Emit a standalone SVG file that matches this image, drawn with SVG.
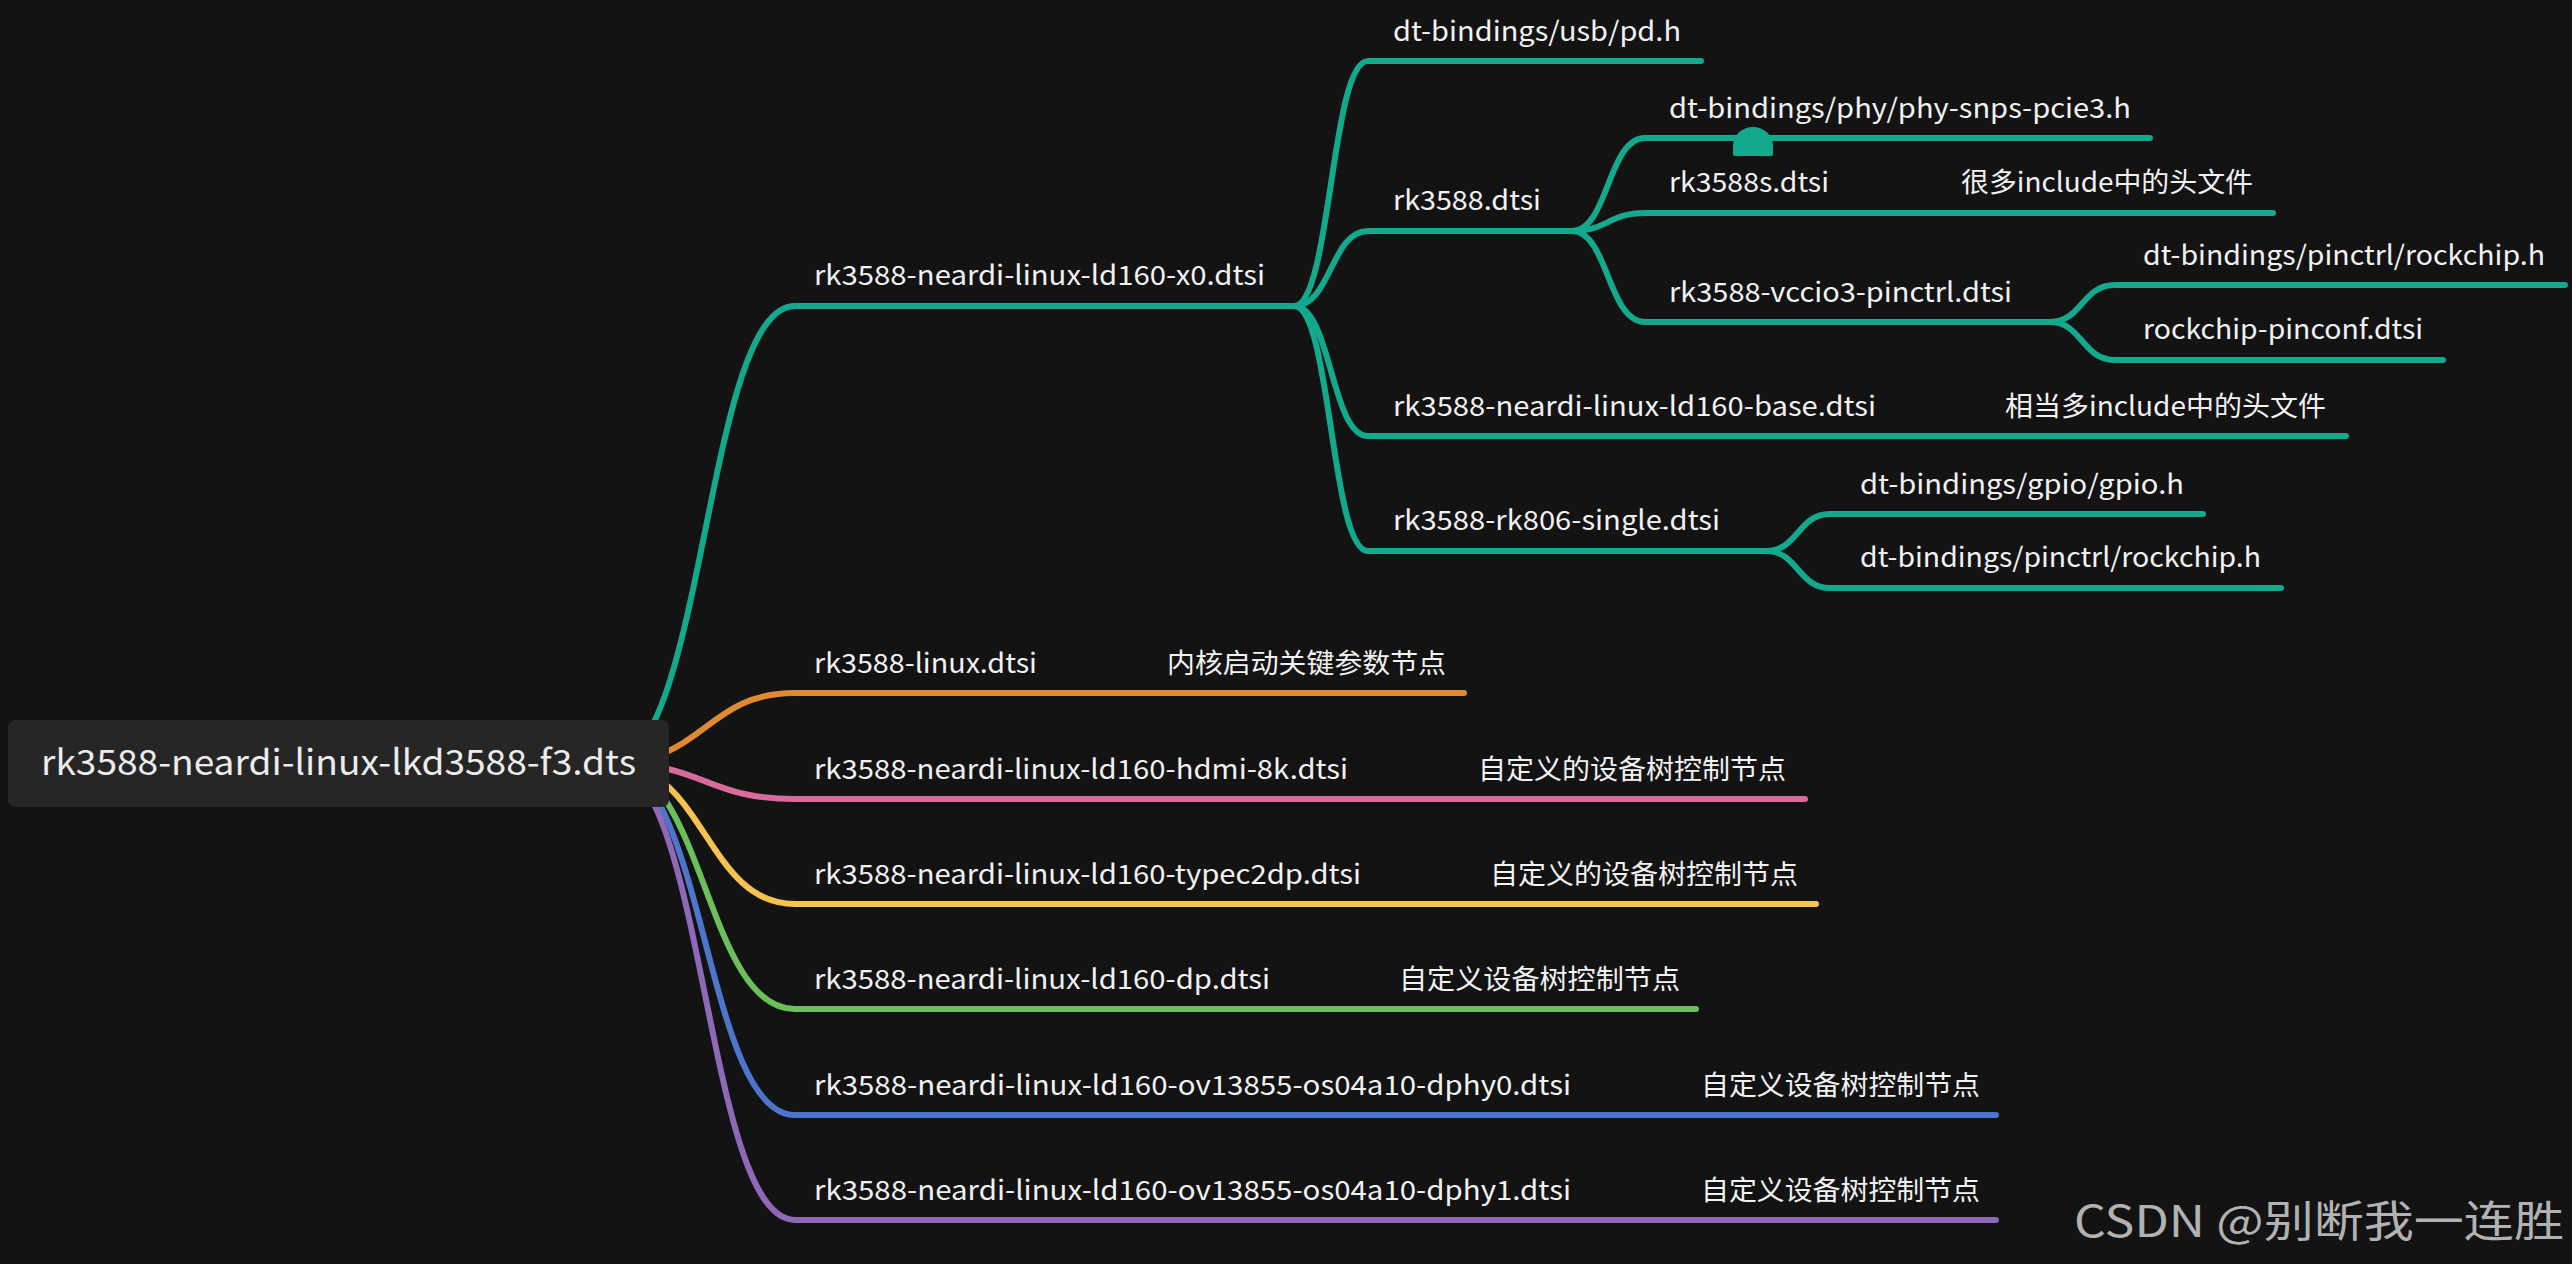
<svg xmlns="http://www.w3.org/2000/svg" width="2572" height="1264" viewBox="0 0 2572 1264">
<style>
.bg{fill:#131313}
.e{fill:none;stroke-width:6;stroke-linecap:round;stroke-linejoin:round}
.teal{stroke:#12a98c}
.orange{stroke:#df8a30}
.pink{stroke:#d86b9b}
.yellow{stroke:#f8c24e}
.green{stroke:#6cc05b}
.blue{stroke:#4e75cc}
.purple{stroke:#9068b8}
text{font-family:"Noto Sans CJK SC","Noto Sans",sans-serif;fill:#f2f2f2}
.t{font-size:27px}
.root{font-size:35px;fill:#ececec}
.wm{font-size:43px;fill:#c4c4c4;opacity:0.9}
</style>
<rect class="bg" x="0" y="0" width="2572" height="1264"/>
<g id="connectors">
<path class="e teal" d="M610 763 C705 763 705 306 795 306 L1294 306"/>
<path class="e orange" d="M610 763 C705 763 705 693 795 693 L1464 693"/>
<path class="e pink" d="M610 763 C705 763 705 799 795 799 L1805 799"/>
<path class="e yellow" d="M610 763 C705 763 705 904 795 904 L1816 904"/>
<path class="e green" d="M610 763 C705 763 705 1009 795 1009 L1696 1009"/>
<path class="e blue" d="M610 763 C705 763 705 1115 795 1115 L1996 1115"/>
<path class="e purple" d="M610 763 C705 763 705 1220 795 1220 L1996 1220"/>
<path class="e teal" d="M1294 306 C1331 306 1331 61 1368 61 L1701 61"/>
<path class="e teal" d="M1294 306 C1331 306 1331 231 1368 231 L1572 231"/>
<path class="e teal" d="M1294 306 C1331 306 1331 436 1368 436 L2346 436"/>
<path class="e teal" d="M1294 306 C1331 306 1331 551 1368 551 L1766 551"/>
<path class="e teal" d="M1572 231 C1608 231 1608 138 1645 138 L2150 138"/>
<path class="e teal" d="M1572 231 C1608 231 1608 213 1645 213 L2273 213"/>
<path class="e teal" d="M1572 231 C1608 231 1608 322 1645 322 L2050 322"/>
<path class="e teal" d="M2050 322 C2082 322 2082 285 2115 285 L2565 285"/>
<path class="e teal" d="M2050 322 C2082 322 2082 360 2115 360 L2443 360"/>
<path class="e teal" d="M1766 551 C1798 551 1798 514 1830 514 L2203 514"/>
<path class="e teal" d="M1766 551 C1798 551 1798 588 1830 588 L2281 588"/>
<path d="M1733 154 L1733 146 A20 19 0 0 1 1773 146 L1773 154 Q1773 156 1771 156 L1735 156 Q1733 156 1733 154 Z" fill="#12a98c"/>
</g>
<g id="root">
<rect x="8" y="720" width="661" height="87" rx="7" fill="#262626"/>
<text class="root" x="41" y="775" textLength="595" lengthAdjust="spacingAndGlyphs">rk3588-neardi-linux-lkd3588-f3.dts</text>
</g>
<g id="n-x0"><text class="t" x="814" y="285" textLength="451" lengthAdjust="spacingAndGlyphs">rk3588-neardi-linux-ld160-x0.dtsi</text></g>
<g id="n-pd"><text class="t" x="1393" y="41" textLength="288" lengthAdjust="spacingAndGlyphs">dt-bindings/usb/pd.h</text></g>
<g id="n-rk3588"><text class="t" x="1393" y="210" textLength="148" lengthAdjust="spacingAndGlyphs">rk3588.dtsi</text></g>
<g id="n-phy"><text class="t" x="1669" y="118" textLength="462" lengthAdjust="spacingAndGlyphs">dt-bindings/phy/phy-snps-pcie3.h</text></g>
<g id="n-rk3588s"><text class="t" x="1669" y="192" textLength="160" lengthAdjust="spacingAndGlyphs">rk3588s.dtsi</text><text class="t" x="1961" y="192" textLength="292" lengthAdjust="spacingAndGlyphs">很多include中的头文件</text></g>
<g id="n-vccio3"><text class="t" x="1669" y="302" textLength="343" lengthAdjust="spacingAndGlyphs">rk3588-vccio3-pinctrl.dtsi</text></g>
<g id="n-pinctrl1"><text class="t" x="2143" y="265" textLength="402" lengthAdjust="spacingAndGlyphs">dt-bindings/pinctrl/rockchip.h</text></g>
<g id="n-pinconf"><text class="t" x="2143" y="339" textLength="280" lengthAdjust="spacingAndGlyphs">rockchip-pinconf.dtsi</text></g>
<g id="n-base"><text class="t" x="1393" y="416" textLength="483" lengthAdjust="spacingAndGlyphs">rk3588-neardi-linux-ld160-base.dtsi</text><text class="t" x="2005" y="416" textLength="321" lengthAdjust="spacingAndGlyphs">相当多include中的头文件</text></g>
<g id="n-rk806"><text class="t" x="1393" y="530" textLength="327" lengthAdjust="spacingAndGlyphs">rk3588-rk806-single.dtsi</text></g>
<g id="n-gpio"><text class="t" x="1860" y="494" textLength="324" lengthAdjust="spacingAndGlyphs">dt-bindings/gpio/gpio.h</text></g>
<g id="n-pinctrl2"><text class="t" x="1860" y="567" textLength="401" lengthAdjust="spacingAndGlyphs">dt-bindings/pinctrl/rockchip.h</text></g>
<g id="n-linux"><text class="t" x="814" y="673" textLength="223" lengthAdjust="spacingAndGlyphs">rk3588-linux.dtsi</text><text class="t" x="1167" y="673" textLength="279" lengthAdjust="spacingAndGlyphs">内核启动关键参数节点</text></g>
<g id="n-hdmi"><text class="t" x="814" y="779" textLength="534" lengthAdjust="spacingAndGlyphs">rk3588-neardi-linux-ld160-hdmi-8k.dtsi</text><text class="t" x="1478" y="779" textLength="308" lengthAdjust="spacingAndGlyphs">自定义的设备树控制节点</text></g>
<g id="n-typec"><text class="t" x="814" y="884" textLength="547" lengthAdjust="spacingAndGlyphs">rk3588-neardi-linux-ld160-typec2dp.dtsi</text><text class="t" x="1490" y="884" textLength="308" lengthAdjust="spacingAndGlyphs">自定义的设备树控制节点</text></g>
<g id="n-dp"><text class="t" x="814" y="989" textLength="456" lengthAdjust="spacingAndGlyphs">rk3588-neardi-linux-ld160-dp.dtsi</text><text class="t" x="1399" y="989" textLength="281" lengthAdjust="spacingAndGlyphs">自定义设备树控制节点</text></g>
<g id="n-dphy0"><text class="t" x="814" y="1095" textLength="757" lengthAdjust="spacingAndGlyphs">rk3588-neardi-linux-ld160-ov13855-os04a10-dphy0.dtsi</text><text class="t" x="1701" y="1095" textLength="279" lengthAdjust="spacingAndGlyphs">自定义设备树控制节点</text></g>
<g id="n-dphy1"><text class="t" x="814" y="1200" textLength="757" lengthAdjust="spacingAndGlyphs">rk3588-neardi-linux-ld160-ov13855-os04a10-dphy1.dtsi</text><text class="t" x="1701" y="1200" textLength="279" lengthAdjust="spacingAndGlyphs">自定义设备树控制节点</text></g>
<text class="wm" x="2074" y="1237" textLength="490" lengthAdjust="spacingAndGlyphs">CSDN @别断我一连胜</text>
</svg>
